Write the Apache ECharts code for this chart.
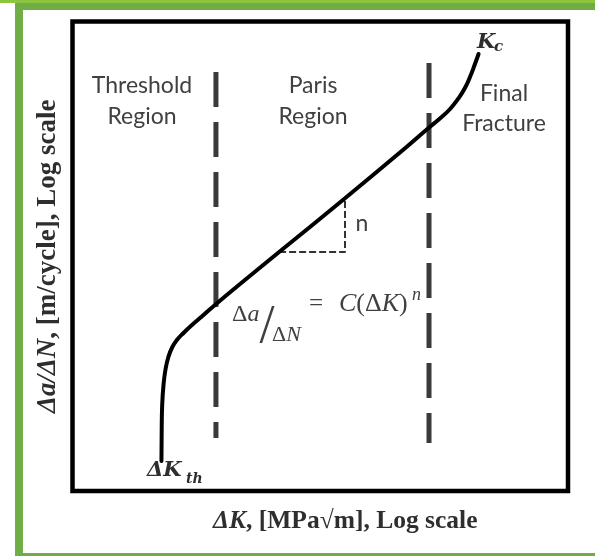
<!DOCTYPE html>
<html>
<head>
<meta charset="utf-8">
<script src="https://cdn.jsdelivr.net/npm/echarts@6/dist/echarts.min.js"></script>
<style>
  html, body { margin: 0; padding: 0; background: #fff; }
  #chart { width: 595px; height: 556px; }
</style>
</head>
<body>
<div id="chart"></div>
<script>
// Fatigue crack growth curve, in log10 units: x = log10(ΔK), y = log10(da/dN)
const logDeltaK = [0.359, 0.360, 0.362, 0.367, 0.375, 0.387, 0.403, 0.423, 0.450, 0.482,
                   0.522, 0.575, 0.664, 0.834, 1.100, 1.334, 1.437, 1.483, 1.524, 1.556,
                   1.584, 1.606, 1.623, 1.639];
const logRate   = [-9.617, -9.220, -8.901, -8.658, -8.454, -8.288, -8.160, -8.064, -7.975, -7.879,
                   -7.770, -7.623, -7.387, -6.946, -6.259, -5.642, -5.361, -5.240, -5.118, -4.990,
                   -4.850, -4.697, -4.556, -4.415];

// Region boundaries (log10 ΔK) and the span of each boundary line (log10 da/dN)
const boundaryK = [0.579, 1.439];
const boundaryRateTop = [-4.645, -4.530];
const boundaryRateBottom = [-9.323, -9.387];

// Slope triangle on the Paris line: horizontal leg then vertical leg
const slopeK = [0.834, 1.100, 1.100];
const slopeRate = [-6.946, -6.946, -6.259];

// Axis extents (log10 units)
const kRange = [0, 2];
const rateRange = [-10, -4];

const pair = (xs, ys) => xs.map((x, i) => [x, ys[i]]);

const serif = 'Liberation Serif';
const markSerif = 'DejaVu Serif';
const sans = 'Lato';
const labelGrey = '#404040';
const inkDark = '#2e2e2e';

const chart = echarts.init(document.getElementById('chart'), null, { renderer: 'canvas' });

const boundarySeries = boundaryK.map((k, i) => ({
  type: 'line',
  data: [[k, boundaryRateTop[i]], [k, boundaryRateBottom[i]]],
  showSymbol: false,
  silent: true,
  z: 2,
  lineStyle: { color: '#3a3a3a', width: 5, type: [35, 15], cap: 'butt' }
}));

const titleStyle = (size) => ({
  color: inkDark, fontFamily: serif, fontWeight: 'bold', fontSize: size, lineHeight: 30,
  rich: {
    bi: { color: inkDark, fontFamily: serif, fontWeight: 'bold', fontStyle: 'italic', fontSize: size, lineHeight: 30 },
    b: { color: inkDark, fontFamily: serif, fontWeight: 'bold', fontSize: size, lineHeight: 30 }
  }
});

chart.setOption({
  animation: false,
  backgroundColor: '#fff',
  grid: {
    left: 72.5, right: 27, top: 21.5, bottom: 65,
    show: true, borderColor: '#000', borderWidth: 4.5, backgroundColor: 'transparent'
  },
  xAxis: {
    type: 'value', min: kRange[0], max: kRange[1],
    axisLine: { show: false }, axisTick: { show: false },
    axisLabel: { show: false }, splitLine: { show: false },
    name: '{bi|ΔK}{b|, [MPa√m], Log scale}',
    nameLocation: 'middle', nameGap: 15,
    nameTextStyle: Object.assign(titleStyle(25.5), { padding: [0, 0, 0, 50] })
  },
  yAxis: {
    type: 'value', min: rateRange[0], max: rateRange[1],
    axisLine: { show: false }, axisTick: { show: false },
    axisLabel: { show: false }, splitLine: { show: false },
    name: '{bi|Δa/ΔN}{b|, [m/cycle], Log scale}',
    nameLocation: 'middle', nameGap: 9,
    nameTextStyle: titleStyle(27)
  },
  series: [
    ...boundarySeries,
    {
      type: 'line',
      data: pair(slopeK, slopeRate),
      showSymbol: false, silent: true, z: 3,
      lineStyle: { color: '#333', width: 2, type: [7, 3] }
    },
    {
      type: 'line',
      data: pair(logDeltaK, logRate),
      smooth: 0.5,
      showSymbol: false, silent: true, z: 4,
      lineStyle: { color: '#000', width: 4, cap: 'round' }
    }
  ],
  graphic: [
    // green frame
    { type: 'rect', shape: { x: 0, y: 0, width: 595, height: 3 }, style: { fill: '#8cc63f' }, silent: true },
    { type: 'rect', shape: { x: 15, y: 3, width: 580, height: 7 }, style: { fill: '#70ad47' }, silent: true },
    { type: 'rect', shape: { x: 15, y: 3, width: 8, height: 553 }, style: { fill: '#70ad47' }, silent: true },
    { type: 'rect', shape: { x: 15, y: 553, width: 580, height: 3 }, style: { fill: '#70ad47' }, silent: true },

    // region labels
    { type: 'text', x: 142, y: 101.5, silent: true,
      style: { text: 'Threshold\nRegion', font: '23px ' + sans, lineHeight: 31, fill: labelGrey, align: 'center', verticalAlign: 'middle' } },
    { type: 'text', x: 313, y: 101, silent: true,
      style: { text: 'Paris\nRegion', font: '23px ' + sans, lineHeight: 31, fill: labelGrey, align: 'center', verticalAlign: 'middle' } },
    { type: 'text', x: 504, y: 108.5, silent: true,
      style: { text: 'Final\nFracture', font: '23px ' + sans, lineHeight: 30.5, fill: labelGrey, align: 'center', verticalAlign: 'middle' } },
    { type: 'text', x: 362, y: 224, silent: true,
      style: { text: 'n', font: '23px ' + sans, fill: labelGrey, align: 'center', verticalAlign: 'middle' } },

    // Paris law: Δa/ΔN = C(ΔK)^n
    { type: 'text', x: 232, y: 315, silent: true,
      style: { text: '{u|Δ}{i|a}', fill: labelGrey, align: 'left', verticalAlign: 'middle',
        font: '24px ' + serif,
        rich: { u: { fontFamily: serif, fontSize: 24, fill: labelGrey }, i: { fontFamily: serif, fontSize: 24, fontStyle: 'italic', fill: labelGrey } } } },
    { type: 'text', x: 267, y: 327.5, silent: true,
      style: { text: '/', font: '54px ' + serif, fill: labelGrey, align: 'center', verticalAlign: 'middle' } },
    { type: 'text', x: 272, y: 335.5, silent: true,
      style: { text: '{u|Δ}{i|N}', fill: labelGrey, align: 'left', verticalAlign: 'middle',
        font: '22px ' + serif,
        rich: { u: { fontFamily: serif, fontSize: 22, fill: labelGrey }, i: { fontFamily: serif, fontSize: 22, fontStyle: 'italic', fill: labelGrey } } } },
    { type: 'text', x: 309, y: 304.5, silent: true,
      style: { text: '=', font: '25px ' + serif, fill: labelGrey, align: 'left', verticalAlign: 'middle' } },
    { type: 'text', x: 339, y: 304.2, silent: true,
      style: { text: '{i|C}{u|(Δ}{i|K}{u|)}', fill: labelGrey, align: 'left', verticalAlign: 'middle',
        font: '26px ' + serif,
        rich: { u: { fontFamily: serif, fontSize: 26, fill: labelGrey }, i: { fontFamily: serif, fontSize: 26, fontStyle: 'italic', fill: labelGrey } } } },
    { type: 'text', x: 412, y: 295, silent: true,
      style: { text: 'n', font: 'italic 18px ' + serif, fill: labelGrey, align: 'left', verticalAlign: 'middle' } },

    // curve end labels
    { type: 'text', x: 147, y: 471, silent: true,
      style: { text: 'ΔK', font: 'italic bold 21px ' + markSerif, fill: inkDark, align: 'left', verticalAlign: 'middle' } },
    { type: 'text', x: 186, y: 479, silent: true,
      style: { text: 'th', font: 'italic bold 14px ' + markSerif, fill: inkDark, align: 'left', verticalAlign: 'middle' } },
    { type: 'text', x: 477, y: 42.5, silent: true,
      style: { text: 'K', font: 'italic bold 21px ' + markSerif, fill: inkDark, align: 'left', verticalAlign: 'middle' } },
    { type: 'text', x: 494, y: 47.5, silent: true,
      style: { text: 'c', font: 'italic bold 15px ' + markSerif, fill: inkDark, align: 'left', verticalAlign: 'middle' } }
  ]
});
</script>
</body>
</html>
